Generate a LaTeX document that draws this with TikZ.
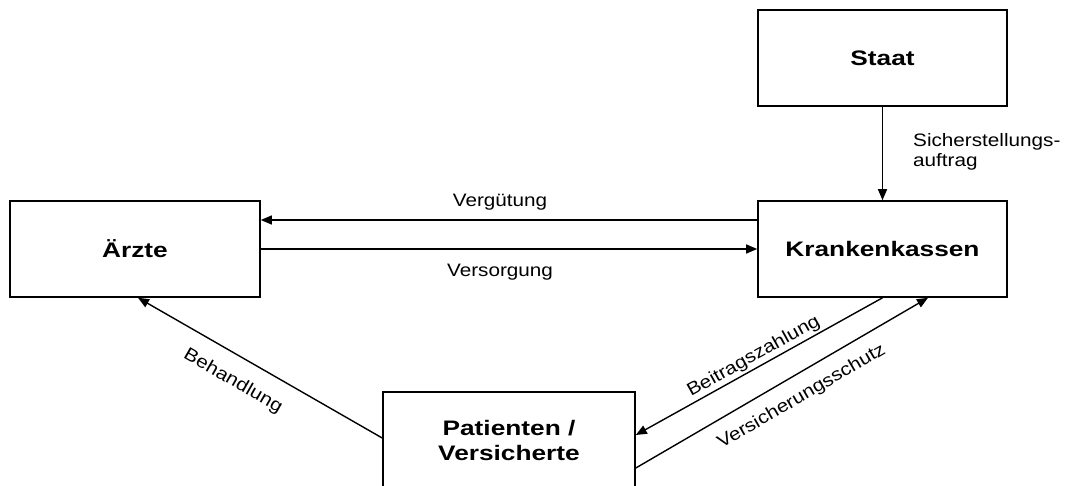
\documentclass[tikz,border=0pt]{standalone}
\usepackage{fontspec}
\usetikzlibrary{arrows.meta,positioning}
\newfontfamily\lblfont[FakeStretch=1.15]{Liberation Sans}
\newfontfamily\boxfont[FakeStretch=1.25]{Liberation Sans}
\tikzset{
  actor/.style={draw, line width=1.6pt, rectangle, inner sep=0pt,
    minimum width=249pt, minimum height=96pt, align=center,
    font=\boxfont\bfseries\fontsize{21}{25}\selectfont},
  flow/.style={line width=1.4pt, -{Triangle[length=11pt,width=9pt]}},
  lbl/.style={inner sep=0pt, font=\lblfont\fontsize{18}{19}\selectfont}
}
\begin{document}
\begin{tikzpicture}[x=1pt,y=-1pt]
  \useasboundingbox[fill=white] (0,0) rectangle (1067,486);

  % parties
  \node[actor] (st) at (882.5,58) {Staat};
  \node[actor] (kk) at (882.5,249) {Krankenkassen};
  \node[actor, minimum width=250pt] (ae) at (135,249) {Ärzte};
  \node[actor, minimum width=252pt] (pa) at (509,440) {Patienten /\\Versicherte};

  % mandate from the state
  \draw[flow] (st.south) -- (kk.north);
  \node[lbl, anchor=north west, align=left] (sa) at (913,133) {Sicherstellungs-\\[1pt]auftrag};

  % doctors <-> health insurance
  \draw[flow] ([yshift=29pt]kk.west) -- node[lbl, pos=0.518, above=9pt] {Vergütung} ([yshift=29pt]ae.east);
  \draw[flow] (ae.east) -- node[lbl, pos=0.482, below=14pt] {Versorgung} (kk.west);

  % patients -> doctors
  \draw[flow] ([yshift=2pt]pa.west) -- node[lbl, sloped, pos=0.56, below=16pt] {Behandlung} ([xshift=3pt]ae.south);

  % patients <-> health insurance
  \draw[flow] (kk.south) -- node[lbl, sloped, pos=0.5, above=2pt] {Beitragszahlung} ([yshift=5pt]pa.east);
  \draw[flow] ([yshift=-28pt]pa.east) -- node[lbl, sloped, pos=0.53, below=13pt] {Versicherungsschutz} ([xshift=45.5pt]kk.south);
\end{tikzpicture}
\end{document}
